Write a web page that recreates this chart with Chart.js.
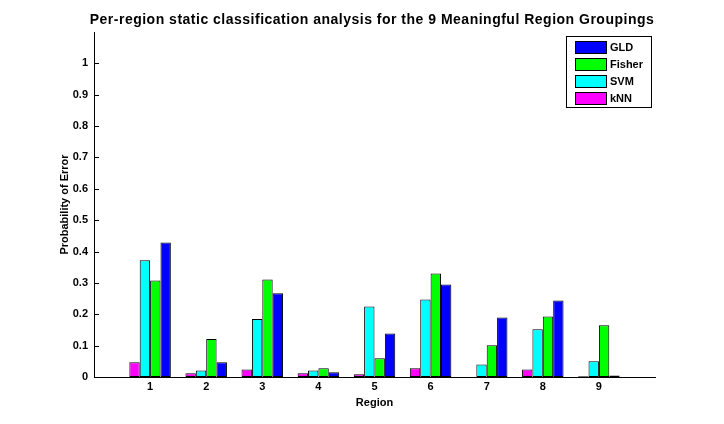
<!DOCTYPE html>
<html>
<head>
<meta charset="utf-8">
<script src="https://cdn.jsdelivr.net/npm/chart.js@4/dist/chart.umd.min.js"></script>
<style>
html,body{margin:0;padding:0;background:#fff;}
#wrap{width:724px;height:424px;position:relative;}
</style>
</head>
<body>
<div id="wrap"><canvas id="c" width="724" height="424"></canvas></div>
<script>
const regions = ['1','2','3','4','5','6','7','8','9'];
const knn    = [0.047, 0.012, 0.024, 0.012, 0.009, 0.028, 0.000, 0.024, 0.002];
const svm    = [0.372, 0.021, 0.185, 0.021, 0.225, 0.247, 0.040, 0.152, 0.050];
const fisher = [0.308, 0.121, 0.311, 0.028, 0.060, 0.330, 0.101, 0.193, 0.165];
const gld    = [0.429, 0.047, 0.267, 0.015, 0.139, 0.295, 0.190, 0.244, 0.005];
const yTicks = [0, 0.1, 0.2, 0.3, 0.4, 0.5, 0.6, 0.7, 0.8, 0.9, 1];

const titleText = 'Per-region static classification analysis for the 9 Meaningful Region Groupings';
const FONT = '"Liberation Sans", Arial, Helvetica, sans-serif';

// pad ends so axis spans 0..10
const labels = [''].concat(regions, ['']);
const pad = arr => [null].concat(arr, [null]);

const ds = (label, data, color) => ({
  label, data: pad(data), backgroundColor: color, borderColor: '#000',
  borderWidth: 1, borderSkipped: false
});

const innerTicks = {
  id: 'innerTicks',
  afterDatasetsDraw(chart) {
    const ctx = chart.ctx, x = chart.scales.x, y = chart.scales.y;
    ctx.save();
    ctx.strokeStyle = '#000'; ctx.lineWidth = 1;
    ctx.beginPath();
    yTicks.forEach(v => {
      const py = Math.round(y.getPixelForValue(v)) + 0.5;
      ctx.moveTo(x.left, py); ctx.lineTo(x.left + 5, py);
    });
    ctx.stroke();
    // title
    ctx.fillStyle = '#000';
    ctx.font = 'bold 14px ' + FONT;
    if ('letterSpacing' in ctx) ctx.letterSpacing = '0.5px';
    ctx.textAlign = 'center'; ctx.textBaseline = 'alphabetic';
    ctx.fillText(titleText, 372, 24);
    if ('letterSpacing' in ctx) ctx.letterSpacing = '0px';
    // legend
    const bx = 566, by = 36, bw = 85, bh = 71;
    ctx.fillStyle = '#fff';
    ctx.fillRect(bx, by, bw, bh);
    ctx.strokeRect(bx + 0.5, by + 0.5, bw, bh);
    const items = chart.data.datasets.slice().reverse();
    ctx.font = 'bold 11px ' + FONT;
    ctx.textAlign = 'left'; ctx.textBaseline = 'middle';
    items.forEach((d, i) => {
      const cy = 46.5 + i * 17.2;
      ctx.fillStyle = d.backgroundColor;
      ctx.fillRect(575, Math.round(cy - 6), 31, 12);
      ctx.strokeStyle = '#000';
      ctx.strokeRect(575.5, Math.round(cy - 6) + 0.5, 31, 12);
      ctx.fillStyle = '#000';
      ctx.fillText(d.label, 610, cy + 1);
    });
    ctx.restore();
  }
};

new Chart(document.getElementById('c'), {
  type: 'bar',
  data: {
    labels,
    datasets: [
      ds('kNN', knn, '#FF00FF'),
      ds('SVM', svm, '#00FFFF'),
      ds('Fisher', fisher, '#00FF00'),
      ds('GLD', gld, '#0000FF')
    ]
  },
  options: {
    responsive: false,
    animation: false,
    devicePixelRatio: 1,
    layout: { padding: { left: 0, right: 69, top: 32, bottom: 0 } },
    plugins: { legend: { display: false }, title: { display: false }, tooltip: { enabled: false } },
    datasets: { bar: { categoryPercentage: 0.74, barPercentage: 1.0 } },
    scales: {
      x: {
        offset: false,
        grid: { display: false, drawTicks: false },
        border: { display: true, color: '#000', width: 1 },
        ticks: { color: '#000', font: { family: FONT, size: 11, weight: 'bold' }, padding: 3, maxRotation: 0, autoSkip: false },
        title: { display: true, text: 'Region', color: '#000', font: { family: FONT, size: 11, weight: 'bold' }, padding: { top: 0, bottom: 14 } },
        afterFit(s) { s.height = 47; }
      },
      y: {
        min: 0, max: 1.1,
        grid: { display: false, drawTicks: false },
        border: { display: true, color: '#000', width: 1 },
        ticks: {
          stepSize: 0.1, color: '#000', padding: 6,
          font: { family: FONT, size: 11, weight: 'bold' },
          callback: v => (v > 1.05 ? '' : String(Number(v.toFixed(1))))
        },
        title: { display: true, text: 'Probability of Error', color: '#000', font: { family: FONT, size: 11, weight: 'bold' }, padding: { top: 58, bottom: 0 } },
        afterFit(s) { s.width = 94; }
      }
    }
  },
  plugins: [innerTicks]
});
</script>
</body>
</html>
